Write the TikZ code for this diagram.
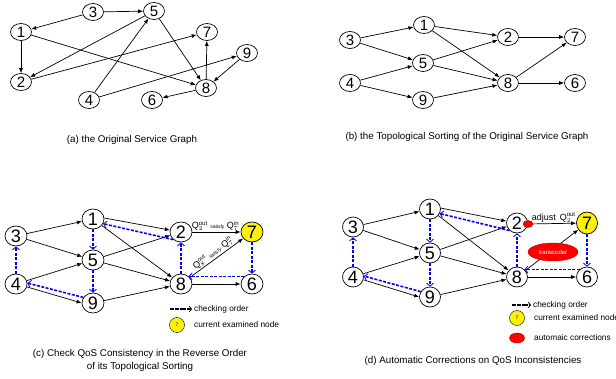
\documentclass[tikz,border=0pt]{standalone}
\usepackage{fontspec}
\setmainfont{Liberation Sans}
\usetikzlibrary{arrows.meta,shapes.geometric}

\begin{document}
\begin{tikzpicture}[x=1pt,y=-1pt,
    svc/.style={draw,ellipse,line width=0.7pt,inner sep=0pt,minimum width=21pt,minimum height=17pt,font=\fontsize{15}{15}\selectfont},
    bigsvc/.style={svc,minimum width=22pt,minimum height=20pt,font=\fontsize{18}{18}\selectfont},
    cur/.style={fill=yellow},
    flow/.style={line width=0.7pt,-{Latex[length=5pt,width=4pt]}},
    check/.style={blue,line width=1.6pt,dash pattern=on 3pt off 1.5pt,-{Straight Barb[length=3pt,width=7pt,line width=0.8pt]}},
    legend/.style={line width=1.1pt,dash pattern=on 2pt off 0.4pt,-{Straight Barb[length=2.5pt,width=6pt,line width=0.7pt]}},
    fix/.style={draw=red!70!black,fill=red,ellipse,inner sep=0pt},
    caption/.style={font=\fontsize{9.8}{13}\selectfont,align=center},
    note/.style={font=\fontsize{8.3}{9}\selectfont,anchor=west,inner sep=0pt},
    qos/.style={font=\fontsize{9}{9}\selectfont,inner sep=1pt}]

\useasboundingbox (0,0) rectangle (616,379);

% (a) original graph
\node[svc] (a1) at (21,32) {1};
\node[svc] (a2) at (21,82) {2};
\node[svc] (a3) at (93,12) {3};
\node[svc] (a4) at (89,100) {4};
\node[svc] (a5) at (154,11) {5};
\node[svc] (a6) at (152,100) {6};
\node[svc] (a7) at (207,32) {7};
\node[svc] (a8) at (206,88) {8};
\node[svc] (a9) at (247,53) {9};
\foreach \s/\t in {3/1,3/5,1/2,1/8,5/2,5/8,2/7,4/5,4/9,9/8,8/7,8/6}
    \draw[flow] (a\s) -- (a\t);
\node[caption] (acap) at (132,140) {(a) the Original Service Graph};

% (b) topological sorting
\node[svc] (b3) at (350,40) {3};
\node[svc] (b1) at (424,25) {1};
\node[svc] (b5) at (423,63) {5};
\node[svc] (b4) at (350,83) {4};
\node[svc] (b9) at (423,100) {9};
\node[svc] (b2) at (508,37) {2};
\node[svc] (b8) at (508,83) {8};
\node[svc] (b7) at (575,37) {7};
\node[svc] (b6) at (575,83) {6};
\foreach \s/\t in {3/1,3/5,4/5,4/9,1/2,1/8,5/2,5/8,9/8,2/7,8/7,8/6}
    \draw[flow] (b\s) -- (b\t);
\node[caption] (bcap) at (467,137) {(b) the Topological Sorting of the Original Service Graph};

% (c) reverse order check
\node[bigsvc] (c3) at (16,236) {3};
\node[bigsvc] (c1) at (93,219) {1};
\node[bigsvc] (c5) at (93,260) {5};
\node[bigsvc] (c4) at (16,284) {4};
\node[bigsvc] (c9) at (93,303) {9};
\node[bigsvc] (c2) at (181,232) {2};
\node[bigsvc] (c8) at (181,284) {8};
\node[bigsvc,cur] (c7) at (252,232) {7};
\node[bigsvc] (c6) at (252,284) {6};
\foreach \s/\t in {3/1,3/5,4/5,1/8,5/2,5/8,9/8,8/6}
    \draw[flow] (c\s) -- (c\t);
\draw[flow] (c1.5) -- (c2.170);
\draw[flow] (c4.-15) -- (c9.180);
\draw[flow] (c2) -- node[qos,above,xshift=-1pt]{$\mathrm{Q}^{\mathrm{out}}_{2}$ {\fontsize{5}{5}\selectfont satisfy} $\mathrm{Q}^{\mathrm{in}}_{7}$} (c7);
\draw[flow] (c8) -- node[qos,sloped,above]{$\mathrm{Q}^{\mathrm{out}}_{8}$ {\fontsize{5}{5}\selectfont satisfy} $\mathrm{Q}^{\mathrm{in}}_{7}$} (c7);
\draw[check] (c7) -- (c6);
\draw[check] (c6.135) -- (c8.45);
\draw[check] (c8) -- (c2);
\draw[check] (c2.225) -- (c1.-25);
\draw[check] (c1) -- (c5);
\draw[check] (c5) -- (c9);
\draw[check] (c9.150) -- (c4.5);
\draw[check] (c4) -- (c3);
\coordinate (cl1) at (170,309);
\coordinate (cl2) at (192,309);
\draw[legend] (cl1) -- (cl2);
\node[note] (cltxt) at (194,309) {checking order};
\node[draw,ellipse,cur,minimum width=15pt,minimum height=15pt,inner sep=0pt,font=\fontsize{5}{5}\selectfont] (clcur) at (177,325) {7};
\node[note] (clcurtxt) at (194,325) {current examined node};
\node[caption] (ccap) at (140,360) {(c) Check QoS Consistency in the Reverse Order\\of its Topological Sorting};

% (d) automatic corrections
\node[bigsvc,minimum width=21pt] (d3) at (353,227) {3};
\node[bigsvc,minimum width=21pt] (d1) at (430,209) {1};
\node[bigsvc,minimum width=21pt] (d5) at (430,253) {5};
\node[bigsvc,minimum width=21pt] (d4) at (353,277) {4};
\node[bigsvc,minimum width=21pt] (d9) at (430,297) {9};
\node[bigsvc,minimum width=21pt] (d2) at (517,223) {2};
\node[bigsvc,minimum width=21pt] (d8) at (517,277) {8};
\node[bigsvc,minimum width=21pt,minimum height=22pt,cur] (d7) at (587,223) {7};
\node[bigsvc,minimum width=21pt] (d6) at (587,277) {6};
\node[fix,minimum width=10pt,minimum height=7pt] (dadj) at (528,224) {};
\foreach \s/\t in {3/1,3/5,4/5,1/8,5/2,5/8,9/8,8/6,8/7}
    \draw[flow] (d\s) -- (d\t);
\draw[flow] (d1.5) -- (d2.170);
\draw[flow] (d4.-15) -- (d9.180);
\draw[flow] (dadj) -- node[qos,above,xshift=-1pt]{adjust\, $\mathrm{Q}^{\mathrm{out}}_{2}$} (d7);
\node[fix,minimum width=50pt,minimum height=18pt,text=white,font=\fontsize{6}{6}\selectfont] (dtc) at (553,252) {transcoder};
\draw[check] (d7) -- (d6);
\draw[check] (d6.135) -- (d8.45);
\draw[check] (d8) -- (d2);
\draw[check] (d2.225) -- (d1.-25);
\draw[check] (d1) -- (d5);
\draw[check] (d5) -- (d9);
\draw[check] (d9.150) -- (d4.5);
\draw[check] (d4) -- (d3);
\coordinate (dl1) at (512,305);
\coordinate (dl2) at (531,305);
\draw[legend] (dl1) -- (dl2);
\node[note] (dltxt) at (533,305) {checking order};
\node[draw,ellipse,cur,minimum width=15pt,minimum height=15pt,inner sep=0pt,font=\fontsize{5}{5}\selectfont] (dlcur) at (517,318) {7};
\node[note] (dlcurtxt) at (534,318) {current examined node};
\node[fix,minimum width=15pt,minimum height=10pt] (dlfix) at (517,338) {};
\node[note] (dlfixtxt) at (534,338) {automaic corrections};
\node[caption] (dcap) at (473,361) {(d) Automatic Corrections on QoS Inconsistencies};
\end{tikzpicture}
\end{document}
